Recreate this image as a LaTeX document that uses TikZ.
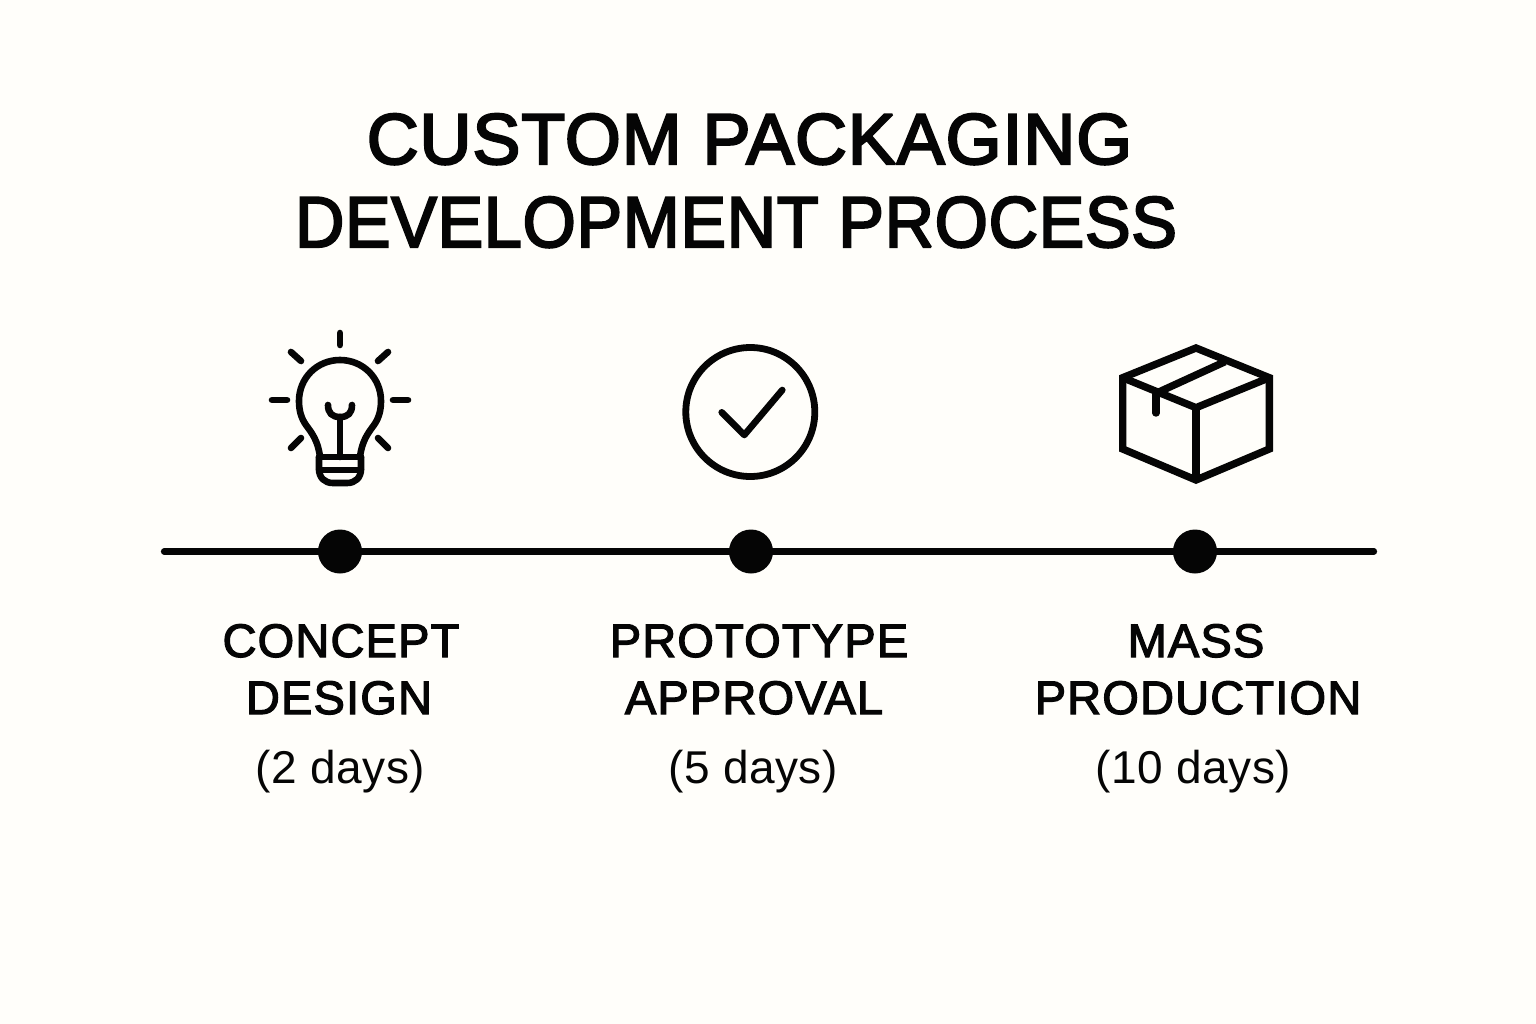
\documentclass[tikz,border=0pt]{standalone}
\usepackage{fontspec}
\usepackage{graphicx}
\setmainfont{Liberation Sans}
\newfontfamily\titlefontA[LetterSpace=1.2,FakeBold=3]{Liberation Sans}
\newfontfamily\titlefontB[LetterSpace=1.0,FakeBold=3]{Liberation Sans}
\newfontfamily\stepfont[LetterSpace=2.5,FakeBold=2.6]{Liberation Sans}
\newfontfamily\dayfont[LetterSpace=1.1]{Liberation Sans}
\definecolor{paper}{HTML}{FFFEFA}
\definecolor{ink}{HTML}{050505}
\tikzset{
  titletext/.style={anchor=base,inner sep=0pt,text=ink,miter limit=2},
  steptext/.style={anchor=base,inner sep=0pt,text=ink,font=\stepfont\fontsize{47}{47}\selectfont},
  daytext/.style={anchor=base,inner sep=0pt,text=ink,font=\dayfont\fontsize{46}{46}\selectfont},
  dot/.style={circle,fill=ink,inner sep=0pt,minimum size=44pt},
  icon/.style={draw=ink,line width=7.4pt,line cap=round,line join=round},
  thin icon/.style={draw=ink,line width=6.6pt,line cap=round,line join=round},
  rail/.style={draw=ink,line width=6.2pt,line cap=round},
}
\begin{document}
\begin{tikzpicture}[x=1pt,y=-1pt]
\useasboundingbox (0,0) rectangle (1536,1024);
\fill[paper] (0,0) rectangle (1536,1024);
% title
\node[titletext,font=\titlefontA\fontsize{72}{72}\selectfont] (t1) at (749.5,164) {CUSTOM PACKAGING};
\node[titletext,font=\titlefontB\fontsize{72}{72}\selectfont] (t2) at (736,247) {\scalebox{0.95}[1]{DEVELOPMENT PROCESS}};
% timeline
\coordinate (lineL) at (164,551.5);
\coordinate (lineR) at (1374,551.5);
\draw[rail] (lineL) -- (lineR);
\node[dot] (d1) at (340,551.5) {};
\node[dot] (d2) at (751,551.5) {};
\node[dot] (d3) at (1195,551.5) {};
% bulb
\draw[thin icon] (340,333) -- (340,345);
\draw[thin icon] (272,400) -- (287,400);
\draw[thin icon] (393,400) -- (408,400);
\draw[thin icon] (291,352) -- (301,361);
\draw[thin icon] (388,352) -- (378,361);
\draw[thin icon] (301,438) -- (291,448);
\draw[thin icon] (378,438) -- (388,448);
\draw[thin icon] (320,457)
  .. controls (318,440) and (311,432) .. (306,425)
  .. controls (301,418) and (299,410) .. (299,401)
  .. controls (299,378) and (317,360) .. (340,360)
  .. controls (363,360) and (381,378) .. (381,401)
  .. controls (381,410) and (379,418) .. (374,425)
  .. controls (369,432) and (362,440) .. (360,457);
\draw[thin icon] (319,457) -- (361,457);
\draw[thin icon] (319,457) -- (319,469) .. controls (319,478) and (325,483) .. (333,483)
  -- (347,483) .. controls (355,483) and (361,478) .. (361,469) -- (361,457);
\draw[thin icon] (319,470) -- (361,470);
\draw[thin icon] (340,457) -- (340,417);
\draw[thin icon] (328,405) .. controls (328,413) and (332,417) .. (340,417)
  .. controls (348,417) and (352,413) .. (352,405);
% check
\node[circle,draw=ink,line width=6.8pt,inner sep=0pt,minimum size=129pt] (chk) at (750.3,412) {};
\draw[thin icon] (721.7,412.3) -- (744.3,435) -- (782.3,390);
% box
\draw[icon,line cap=butt,line join=miter] (1196,348) -- (1269.3,377.7) -- (1269.3,449) -- (1196,480) -- (1122.7,449) -- (1122.7,377.7) -- cycle;
\draw[icon,line cap=butt] (1122.7,377.7) -- (1196,407.7) -- (1269.3,377.7);
\draw[icon,line cap=butt] (1196,407.7) -- (1196,480);
\draw[icon,line cap=butt] (1225,361.7) -- (1156,393.3);
\draw[icon] (1156,393.3) -- (1156,413);
% labels
\node[steptext] (a1) at (341,657) {CONCEPT};
\node[steptext] (a2) at (339,714) {DESIGN};
\node[daytext] (a3) at (340.5,783) {(2 days)};
\node[steptext] (b1) at (759,657) {PROTOTYPE};
\node[steptext] (b2) at (754,714) {APPROVAL};
\node[daytext] (b3) at (753,783) {(5 days)};
\node[steptext] (c1) at (1196,657) {MASS};
\node[steptext] (c2) at (1198,714) {PRODUCTION};
\node[daytext] (c3) at (1193.5,783) {(10 days)};
\end{tikzpicture}
\end{document}
